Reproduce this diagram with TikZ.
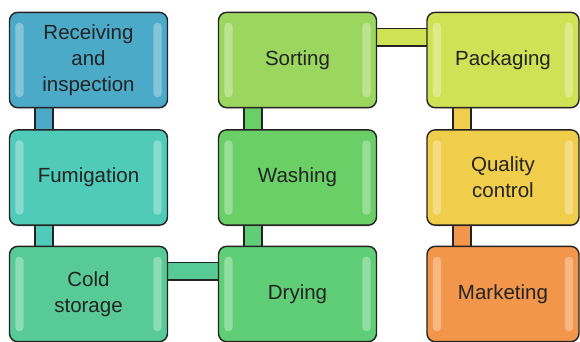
\documentclass[tikz,border=0pt]{standalone}
\usepackage{fontspec}
\setmainfont{Liberation Sans}
\usetikzlibrary{backgrounds,shadows}
\definecolor{rcvblue}{RGB}{75,170,200}
\definecolor{fumteal}{RGB}{80,202,185}
\definecolor{coldgreen}{RGB}{88,202,150}
\definecolor{sortgreen}{RGB}{155,215,95}
\definecolor{washgreen}{RGB}{105,207,102}
\definecolor{drygreen}{RGB}{95,206,118}
\definecolor{packlime}{RGB}{207,226,85}
\definecolor{qualyellow}{RGB}{240,205,75}
\definecolor{mktorange}{RGB}{242,150,75}
\definecolor{edgegray}{RGB}{35,35,35}

\begin{document}
\begin{tikzpicture}[x=0.03cm,y=-0.03cm,
  stage/.style={draw=edgegray,line width=1.2pt,rounded corners=7pt,
    minimum width=4.74cm,minimum height=2.86cm,align=center,
    font=\fontsize{17.5}{22}\selectfont,text=edgegray,fill=#1,
    drop shadow={opacity=0.15,shadow xshift=0pt,shadow yshift=-1.5pt},
    path picture={
      \fill[white,opacity=0.32,rounded corners=3pt]
        ([xshift=5pt,yshift=9pt]path picture bounding box.south west)
        rectangle ([xshift=12pt,yshift=-9pt]path picture bounding box.north west);
      \fill[white,opacity=0.32,rounded corners=3pt]
        ([xshift=-5pt,yshift=9pt]path picture bounding box.south east)
        rectangle ([xshift=-12pt,yshift=-9pt]path picture bounding box.north east);
    }},
  link/.style={draw=edgegray,line width=1.2pt,double=#1,double distance=14pt}]
  \useasboundingbox (0,0) rectangle (580,342);

  % first column
  \node[stage=rcvblue] (rcv) at (88.5,60) {Receiving\\and\\inspection};
  \node[stage=fumteal] (fum) at (88.5,177.5) {Fumigation};
  \node[stage=coldgreen] (cold) at (88.5,294) {Cold\\storage};
  % second column
  \node[stage=sortgreen] (sort) at (297.5,60) {Sorting};
  \node[stage=washgreen] (wash) at (297.5,177.5) {Washing};
  \node[stage=drygreen] (dry) at (297.5,294) {Drying};
  % third column
  \node[stage=packlime,minimum width=4.56cm] (pack) at (503,60) {Packaging};
  \node[stage=qualyellow,minimum width=4.56cm] (qual) at (503,177.5) {Quality\\control};
  \node[stage=mktorange,minimum width=4.56cm] (mkt) at (503,294) {Marketing};

  \begin{scope}[on background layer]
    \foreach \a/\b/\c/\s in {rcv/fum/rcvblue/-38pt,fum/cold/fumteal/-38pt,
        dry/wash/drygreen/-38pt,wash/sort/washgreen/-38pt,
        pack/qual/qualyellow/-35pt,qual/mkt/mktorange/-35pt}
      \draw[link=\c] ([xshift=\s]\a.center) -- ([xshift=\s]\b.center);
    \draw[link=coldgreen] ([yshift=19.5pt]cold.center) -- ([yshift=19.5pt]dry.center);
    \draw[link=packlime] ([yshift=19.5pt]sort.center) -- ([yshift=19.5pt]pack.center);
  \end{scope}
\end{tikzpicture}
\end{document}
